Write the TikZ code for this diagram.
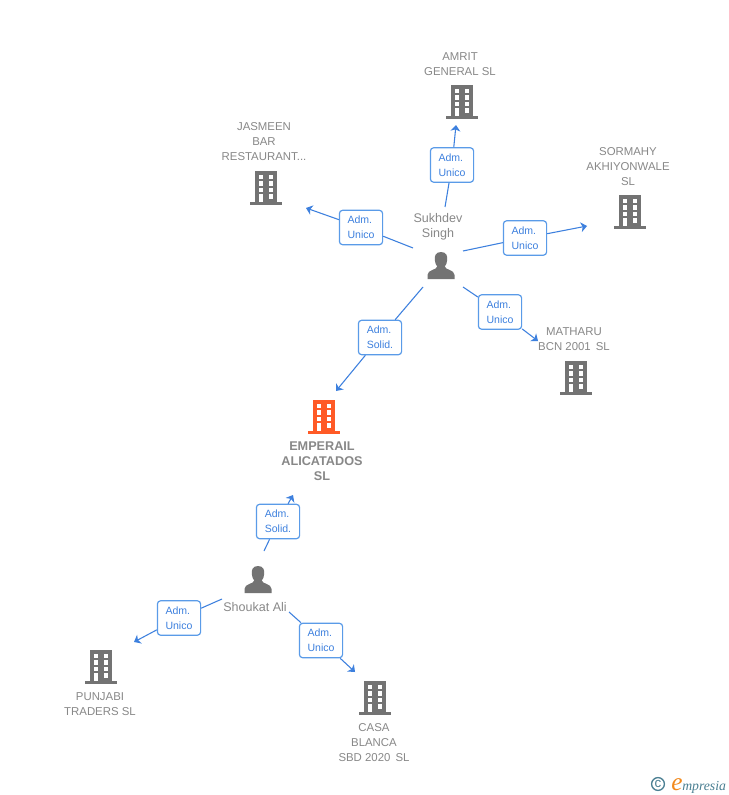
\documentclass[tikz,border=0pt]{standalone}
\usepackage{fontspec}
\setmainfont{Liberation Sans}
\newfontfamily\logofont{Liberation Serif}
\usetikzlibrary{arrows.meta}
\definecolor{linkblue}{HTML}{3D80DE}
\definecolor{boxblue}{HTML}{5A9BE8}
\definecolor{labelgray}{HTML}{888888}
\definecolor{iconfill}{HTML}{737373}
\definecolor{hotfill}{HTML}{FF5A26}
\definecolor{logoteal}{HTML}{4A7F92}
\definecolor{logoorange}{HTML}{F28A1E}
\tikzset{
  px/.style={x=0.75pt,y=-0.75pt},
  rolebox/.style={draw=boxblue,line width=0.9pt,rounded corners=2.4pt,fill=white,text=linkblue,
    minimum width=32.4pt,minimum height=25.8pt,inner sep=0pt,align=left,font=\fontsize{7.9pt}{11.1pt}\selectfont},
  link/.style={draw=linkblue,line width=0.8pt},
  linkend/.style={link,-{Stealth[length=4.6pt,width=7.4pt,inset=1.3pt]}},
  namelabel/.style={text=labelgray,align=center,inner sep=0pt,font=\fontsize{8.55pt}{11.25pt}\selectfont},
  personlabel/.style={namelabel,font=\fontsize{9.4pt}{11.25pt}\selectfont},
  mainlabel/.style={namelabel,font=\bfseries\fontsize{9.5pt}{11.25pt}\selectfont},
}
% building icon: #1 name, #2 centre x, #3 bottom y, #4 colour
\newcommand{\bldg}[4]{%
  \coordinate (#1) at (#2,#3);
  \begin{scope}[shift={(#2,#3)}]
    \fill[#4] (-11,-34) rectangle (11,-2);
    \fill[#4] (-15.7,-3) rectangle (15.7,0);
    \foreach \wy in {-29.8,-23.6,-16.8}{
      \fill[white] (-7.3,\wy) rectangle (-2.6,\wy+4.2);
      \fill[white] (2.7,\wy) rectangle (7.4,\wy+4.2);
    }
    \fill[white] (-7.3,-10.6) rectangle (-2.6,-3);
    \fill[white] (2.7,-10.6) rectangle (7.4,-6.2);
  \end{scope}}
% person icon: #1 name, #2 centre x, #3 top y
\newcommand{\persona}[3]{%
  \coordinate (#1) at (#2,#3);
  \begin{scope}[shift={(#2,#3)}]
    \fill[iconfill] (0,0) .. controls (-5.4,0) and (-6.6,4) .. (-6.2,8)
      .. controls (-6,11) and (-5,13) .. (-3.8,14.5)
      .. controls (-4,18) and (-13.5,17.5) .. (-13.5,23) -- (-13.5,27) -- (13.5,27) -- (13.5,23)
      .. controls (13.5,17.5) and (4,18) .. (3.8,14.5)
      .. controls (5,13) and (6,11) .. (6.2,8)
      .. controls (6.6,4) and (5.4,0) .. (0,0) -- cycle;
  \end{scope}}
\begin{document}
\begin{tikzpicture}[px]
\useasboundingbox (0,0) rectangle (728,795);
\fill[white] (0,0) rectangle (728,795);

% icons
\bldg{amrit}{462}{119}{iconfill}
\bldg{jasmeen}{266}{205}{iconfill}
\bldg{sormahy}{630}{229}{iconfill}
\bldg{matharu}{576}{395}{iconfill}
\bldg{emperail}{324}{434}{hotfill}
\bldg{punjabi}{101}{684}{iconfill}
\bldg{casa}{375}{715}{iconfill}
\persona{sukhdev}{441}{252}
\persona{shoukat}{258}{566}

% labels
\node[namelabel] (tamrit) at (460,64) {AMRIT\\GENERAL SL};
\node[namelabel] (tjasmeen) at (264,141.5) {JASMEEN\\BAR\\RESTAURANT...};
\node[namelabel] (tsormahy) at (628,166.5) {SORMAHY\\AKHIYONWALE\\SL};
\node[namelabel] (tmatharu) at (574,339) {MATHARU\\BCN 2001\, SL};
\node[mainlabel] (temperail) at (322,461) {EMPERAIL\\ALICATADOS\\SL};
\node[namelabel] (tpunjabi) at (100,704) {PUNJABI\\TRADERS SL};
\node[namelabel] (tcasa) at (374,742.5) {CASA\\BLANCA\\SBD 2020\, SL};
\node[personlabel] (tsukhdev) at (438,226.5) {Sukhdev\\Singh};
\node[personlabel] (tshoukat) at (255,607) {Shoukat Ali};

% free ends of the connectors
\coordinate (a1) at (445,207); \coordinate (b1) at (456,125);
\coordinate (a2) at (413,248); \coordinate (b2) at (306,208);
\coordinate (a3) at (463,251); \coordinate (b3) at (587,226);
\coordinate (a4) at (463,287); \coordinate (b4) at (538,341);
\coordinate (a5) at (423,287); \coordinate (b5) at (336,391);
\coordinate (a6) at (264,551); \coordinate (b6) at (293,495);
\coordinate (a7) at (222,599); \coordinate (b7) at (134,642);
\coordinate (a8) at (289,612); \coordinate (b8) at (355,672);

% role boxes
\node[rolebox] (r1) at (452,165) {Adm.\\Unico};
\node[rolebox] (r2) at (361,227.5) {Adm.\\Unico};
\node[rolebox] (r3) at (525,238) {Adm.\\Unico};
\node[rolebox] (r4) at (500,312) {Adm.\\Unico};
\node[rolebox] (r5) at (380,337.5) {Adm.\\Solid.};
\node[rolebox] (r6) at (278,521.5) {Adm.\\Solid.};
\node[rolebox] (r7) at (179,618) {Adm.\\Unico};
\node[rolebox] (r8) at (321,640.5) {Adm.\\Unico};

% connectors
\foreach \i in {1,...,8}{
  \draw[link] (a\i) -- (r\i);
  \draw[linkend] (r\i) -- (b\i);
}

% logo
\node[draw=logoteal,line width=1pt,circle,minimum size=9.6pt,inner sep=0pt,text=logoteal,font=\fontsize{10pt}{10pt}\selectfont] (logoc) at (658,784) {c};
\node[inner sep=0pt,anchor=base west,text=logoorange,font=\logofont\itshape\fontsize{19pt}{19pt}\selectfont] (logoe) at (671,790) {e};
\node[inner sep=0pt,anchor=base west,text=logoteal,font=\logofont\itshape\fontsize{10.3pt}{10.3pt}\selectfont] (logot) at (682,790) {mpresia};
\end{tikzpicture}
\end{document}
